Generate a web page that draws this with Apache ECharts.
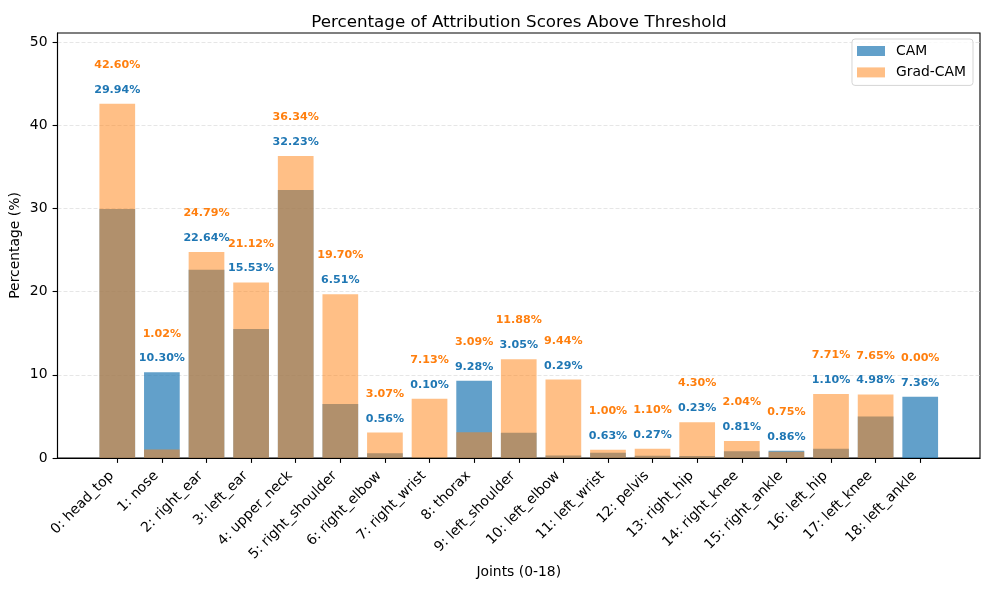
<!DOCTYPE html>
<html>
<head>
<meta charset="utf-8">
<script src="https://cdn.jsdelivr.net/npm/echarts@6/dist/echarts.min.js"></script>
<style>
  html, body { margin: 0; padding: 0; background: #fff; }
  #chart { width: 989px; height: 590px; }
</style>
</head>
<body>
<div id="chart"></div>
<script>
const joints = ['head_top', 'nose', 'right_ear', 'left_ear', 'upper_neck', 'right_shoulder', 'right_elbow',
  'right_wrist', 'thorax', 'left_shoulder', 'left_elbow', 'left_wrist', 'pelvis', 'right_hip',
  'right_knee', 'right_ankle', 'left_hip', 'left_knee', 'left_ankle']
const camValues = [29.94, 10.30, 22.64, 15.53, 32.23, 6.51, 0.56, 0.10, 9.28, 3.05, 0.29, 0.63, 0.27, 0.23, 0.81, 0.86, 1.10, 4.98, 7.36]
const gradValues = [42.60, 1.02, 24.79, 21.12, 36.34, 19.70, 3.07, 7.13, 3.09, 11.88, 9.44, 1.00, 1.10, 4.30, 2.04, 0.75, 7.71, 7.65, 0.00]
const yTicks = [0, 10, 20, 30, 40, 50]

const font = 'DejaVu Sans'
const idx = joints.map((j, i) => i)
const yMax = Math.max(...camValues, ...gradValues) * 1.2

// label anchors sit above the taller of the two bars
const tallest = idx.map(i => Math.max(camValues[i], gradValues[i]))

var chart = echarts.init(document.getElementById('chart'), null, { renderer: 'canvas' })
chart.setOption({
  animation: false,
  textStyle: { fontFamily: font },
  title: {
    text: 'Percentage of Attribution Scores Above Threshold',
    left: 514, top: 9, textAlign: 'center',
    textStyle: { fontSize: 16.7, fontWeight: 'normal', color: '#000', fontFamily: font }
  },
  legend: {
    data: ['CAM', 'Grad-CAM'],
    icon: 'rect',
    orient: 'vertical',
    right: 16, top: 39,
    itemWidth: 28, itemHeight: 10, itemGap: 7.4,
    padding: [5, 7, 6, 5],
    borderColor: '#d5d5d5', borderWidth: 1, borderRadius: 3,
    backgroundColor: 'rgba(255,255,255,0.8)',
    textStyle: { fontSize: 13.9, color: '#000', fontFamily: font, padding: [0, 0, 0, 6] }
  },
  grid: {
    left: 57.5, right: 9, top: 33, bottom: 132,
    outerBoundsMode: 'none', containLabel: false,
    show: true, borderColor: '#000', borderWidth: 1.1
  },
  xAxis: {
    type: 'value', min: -1.34, max: 19.34,
    name: 'Joints (0-18)', nameLocation: 'middle', nameGap: 107, nameMoveOverlap: false,
    nameTextStyle: { fontSize: 13.9, color: '#000', fontFamily: font },
    splitLine: { show: false },
    axisLine: { show: true, onZero: false, lineStyle: { color: '#000', width: 1.1 } },
    axisTick: { show: true, customValues: idx, length: 4.9, lineStyle: { color: '#000', width: 1.1 } },
    axisLabel: {
      customValues: idx, rotate: 45, margin: 10, padding: [0, 8, 0, 0],
      fontSize: 13.9, color: '#000', fontFamily: font,
      formatter: v => v + ': ' + joints[v]
    }
  },
  yAxis: {
    type: 'value', min: 0, max: yMax,
    name: 'Percentage (%)', nameLocation: 'middle', nameGap: 35, nameMoveOverlap: false,
    nameTextStyle: { fontSize: 13.9, color: '#000', fontFamily: font },
    axisLine: { show: true, onZero: false, lineStyle: { color: '#000', width: 1.1 } },
    axisTick: { show: true, customValues: yTicks, length: 4.9, lineStyle: { color: '#000', width: 1.1 } },
    axisLabel: { customValues: yTicks, margin: 10, fontSize: 13.9, color: '#000', fontFamily: font },
    splitLine: { show: true, customValues: yTicks, lineStyle: { color: '#e6e6e6', type: [4, 2], width: 1 } }
  },
  series: [
    {
      name: 'CAM', type: 'bar', barWidth: 35.7, barGap: '-100%',
      itemStyle: { color: '#1f77b4', opacity: 0.7 },
      data: idx.map(i => [i, camValues[i]])
    },
    {
      name: 'Grad-CAM', type: 'bar', barWidth: 35.7, barGap: '-100%',
      itemStyle: { color: '#ff7f0e', opacity: 0.5 },
      data: idx.map(i => [i, gradValues[i]])
    },
    {
      type: 'scatter', symbolSize: 0, silent: true,
      itemStyle: { opacity: 1 },
      data: idx.map(i => [i, tallest[i] + 1]),
      label: {
        show: true, position: 'top', distance: 0, opacity: 1,
        fontSize: 11.1, fontWeight: 'bold', color: '#1f77b4', fontFamily: font,
        formatter: p => camValues[p.dataIndex].toFixed(2) + '%'
      }
    },
    {
      type: 'scatter', symbolSize: 0, silent: true,
      itemStyle: { opacity: 1 },
      data: idx.map(i => [i, tallest[i] + 4]),
      label: {
        show: true, position: 'top', distance: 0, opacity: 1,
        fontSize: 11.1, fontWeight: 'bold', color: '#ff7f0e', fontFamily: font,
        formatter: p => gradValues[p.dataIndex].toFixed(2) + '%'
      }
    }
  ]
})
window.onresize = chart.resize
</script>
</body>
</html>
